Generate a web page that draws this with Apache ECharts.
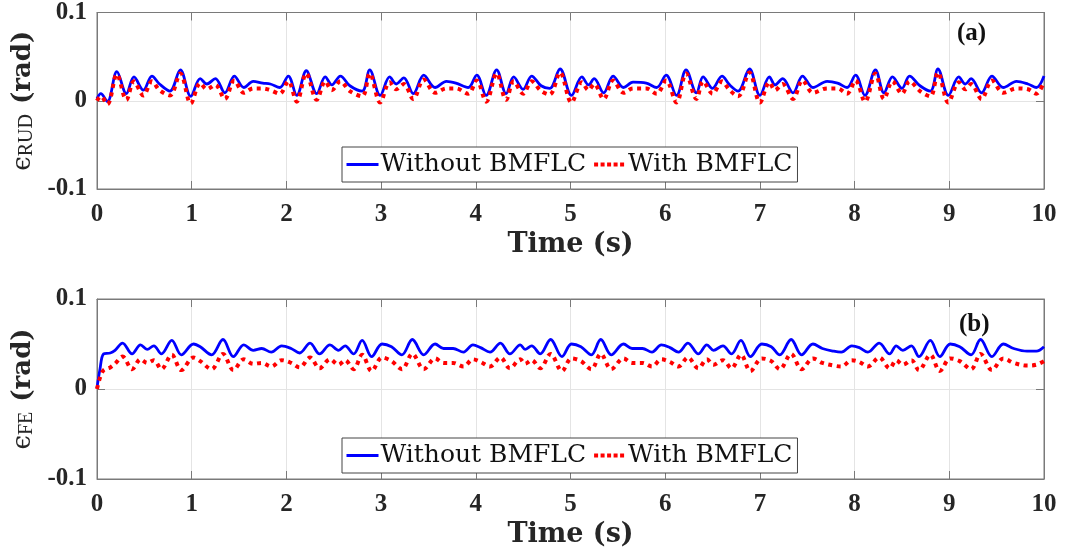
<!DOCTYPE html>
<html>
<head>
<meta charset="utf-8">
<script src="https://cdn.jsdelivr.net/npm/echarts@6/dist/echarts.min.js"></script>
<style>
html,body{margin:0;padding:0;background:#fff;}
#c{width:1066px;height:559px;}
</style>
</head>
<body>
<div id="c"></div>
<script>
// ---------- data ----------
var seriesNames = ['Without BMFLC', 'With BMFLC'];
var xTicks = [0,1,2,3,4,5,6,7,8,9,10];
var yTicks = [-0.1, 0, 0.1];

// panel (a): RUD error
var timeA = [0,0.04,0.11,0.21,0.31,0.39,0.49,0.58,0.66,0.77,
  0.88,0.99,1.09,1.16,1.25,1.35,1.45,1.55,1.65,1.75,
  1.83,1.93,2.02,2.11,2.21,2.32,2.41,2.48,2.57,2.67,
  2.80,2.88,2.99,3.09,3.16,3.24,3.34,3.45,3.57,3.69,
  3.79,3.92,4.01,4.11,4.22,4.32,4.40,4.50,4.59,4.69,
  4.78,4.89,5.01,5.12,5.19,5.25,5.35,5.45,5.56,5.66,
  5.80,5.91,6.01,6.12,6.22,6.33,6.40,6.50,6.60,6.68,
  6.77,6.89,7.00,7.10,7.16,7.24,7.35,7.45,7.56,7.71,
  7.82,7.92,8.01,8.11,8.22,8.31,8.40,8.50,8.58,8.69,
  8.80,8.88,8.99,9.10,9.17,9.23,9.34,9.45,9.57,9.71,
  9.83,9.92,10.0];
var withoutA = [0.0025,0.008,-0.001,0.033,0.008,0.027,0.012,0.028,0.019,0.011,
  0.035,0.005,0.025,0.019,0.025,0.009,0.028,0.015,0.022,0.020,
  0.019,0.015,0.028,0.006,0.034,0.008,0.027,0.018,0.028,0.017,
  0.011,0.035,0.006,0.027,0.019,0.026,0.008,0.029,0.015,0.022,
  0.020,0.015,0.029,0.006,0.035,0.008,0.027,0.013,0.028,0.017,
  0.014,0.036,0.006,0.027,0.018,0.025,0.009,0.028,0.015,0.021,
  0.020,0.015,0.029,0.006,0.035,0.009,0.027,0.014,0.028,0.018,
  0.011,0.036,0.006,0.027,0.018,0.025,0.009,0.028,0.015,0.022,
  0.020,0.015,0.029,0.006,0.035,0.009,0.027,0.014,0.028,0.017,
  0.011,0.036,0.006,0.027,0.019,0.025,0.009,0.028,0.015,0.022,
  0.019,0.015,0.028];
var withA = [0.000,0.005,-0.004,0.030,0.001,0.022,0.006,0.022,0.012,0.006,
  0.031,-0.003,0.020,0.013,0.018,0.002,0.023,0.009,0.014,0.014,
  0.012,0.008,0.022,-0.001,0.031,0.001,0.022,0.012,0.022,0.011,
  0.005,0.031,-0.002,0.021,0.013,0.019,0.002,0.024,0.009,0.014,
  0.014,0.008,0.023,-0.001,0.031,0.001,0.022,0.008,0.022,0.011,
  0.007,0.032,-0.002,0.021,0.012,0.019,0.002,0.023,0.009,0.014,
  0.014,0.008,0.023,-0.002,0.031,0.002,0.022,0.008,0.022,0.012,
  0.005,0.032,-0.002,0.021,0.012,0.019,0.002,0.023,0.009,0.014,
  0.014,0.008,0.023,-0.001,0.031,0.002,0.022,0.008,0.022,0.011,
  0.005,0.032,-0.002,0.021,0.013,0.019,0.002,0.023,0.009,0.014,
  0.013,0.008,0.022];

// panel (b): FE error
var timeB = [0,0.03,0.07,0.14,0.19,0.27,0.37,0.46,0.53,0.60,
  0.68,0.79,0.89,1.02,1.09,1.21,1.33,1.44,1.55,1.65,
  1.74,1.84,1.95,2.05,2.14,2.25,2.35,2.46,2.55,2.62,
  2.71,2.80,2.90,3.01,3.11,3.22,3.33,3.45,3.57,3.66,
  3.76,3.87,3.97,4.05,4.15,4.26,4.36,4.47,4.52,4.59,
  4.68,4.79,4.91,5.01,5.11,5.22,5.32,5.43,5.56,5.65,
  5.76,5.86,5.96,6.05,6.14,6.24,6.35,6.44,6.51,6.61,
  6.70,6.80,6.90,7.02,7.12,7.21,7.33,7.44,7.56,7.66,
  7.78,7.86,7.97,8.05,8.14,8.26,8.37,8.44,8.51,8.60,
  8.68,8.80,8.90,9.01,9.11,9.23,9.33,9.45,9.57,9.68,
  9.82,9.92,10.0];
var withoutB = [0.001,0.021,0.039,0.040,0.043,0.051,0.039,0.049,0.044,0.048,
  0.039,0.054,0.038,0.050,0.047,0.038,0.055,0.036,0.049,0.043,
  0.045,0.041,0.048,0.045,0.040,0.051,0.039,0.049,0.043,0.048,
  0.039,0.054,0.036,0.050,0.047,0.038,0.055,0.038,0.050,0.045,
  0.045,0.041,0.049,0.046,0.041,0.051,0.039,0.049,0.044,0.048,
  0.039,0.055,0.036,0.050,0.047,0.038,0.055,0.038,0.050,0.045,
  0.045,0.041,0.049,0.046,0.041,0.051,0.039,0.049,0.043,0.048,
  0.039,0.054,0.036,0.050,0.047,0.038,0.055,0.038,0.050,0.045,
  0.042,0.041,0.048,0.046,0.041,0.051,0.039,0.048,0.043,0.048,
  0.036,0.054,0.036,0.050,0.047,0.038,0.055,0.036,0.050,0.045,
  0.042,0.042,0.047];
var withB = [0.000,0.012,0.021,0.024,0.028,0.036,0.022,0.033,0.029,0.032,
  0.022,0.038,0.021,0.035,0.031,0.022,0.039,0.021,0.033,0.028,
  0.029,0.025,0.032,0.029,0.024,0.035,0.023,0.033,0.027,0.032,
  0.022,0.038,0.020,0.035,0.031,0.022,0.039,0.022,0.034,0.029,
  0.029,0.025,0.033,0.030,0.025,0.035,0.023,0.033,0.028,0.032,
  0.023,0.039,0.020,0.034,0.031,0.022,0.039,0.022,0.034,0.029,
  0.029,0.025,0.033,0.030,0.025,0.035,0.023,0.033,0.027,0.032,
  0.023,0.038,0.020,0.034,0.031,0.022,0.039,0.022,0.034,0.029,
  0.026,0.025,0.032,0.030,0.025,0.035,0.023,0.032,0.027,0.032,
  0.021,0.038,0.020,0.034,0.031,0.022,0.039,0.021,0.034,0.029,
  0.026,0.027,0.031];

// ---------- build chart ----------
function zip(t, v) {
  var n = Math.min(t.length, v.length), out = [];
  for (var i = 0; i < n; i++) out.push([t[i], v[i]]);
  return out;
}

var TXT = '#262626';
var AX = '#7a7a7a';
var GRIDC = '#e4e4e4';
var tickFont = {fontFamily: 'Liberation Serif', fontWeight: 'bold', fontSize: 25, color: TXT};

var grids = [
  {left: 97, right: 22, top: 8, height: 181, show: true, borderColor: AX, borderWidth: 1, backgroundColor: '#fff'},
  {left: 97, right: 22, top: 299, height: 180, show: true, borderColor: AX, borderWidth: 1, backgroundColor: '#fff'}
];

function mainX(gi) {
  return {
    type: 'value', gridIndex: gi, min: 0, max: 10, interval: 1, position: 'bottom',
    name: 'Time (s)', nameLocation: 'middle', nameGap: 42,
    nameTextStyle: {fontFamily: 'DejaVu Serif', fontWeight: 'bold', fontSize: 27, color: TXT},
    axisLine: {show: true, onZero: false, lineStyle: {color: AX, width: 1}},
    axisTick: {show: true, inside: true, length: 8, lineStyle: {color: AX}},
    axisLabel: Object.assign({margin: 13, formatter: function(v){ return String(v); }}, tickFont),
    splitLine: {show: true, lineStyle: {color: GRIDC, width: 1}}
  };
}
function topX(gi) {
  return {
    type: 'value', gridIndex: gi, min: 0, max: 10, interval: 1, position: 'top',
    axisLine: {show: true, onZero: false, lineStyle: {color: AX, width: 1}},
    axisTick: {show: true, inside: true, length: 8, lineStyle: {color: AX}},
    axisLabel: {show: false}, splitLine: {show: false}
  };
}
function mainY(gi, sub) {
  return {
    type: 'value', gridIndex: gi, min: yTicks[0], max: yTicks[yTicks.length-1], interval: 0.1, position: 'left',
    name: '{e|\u03F5}{s|' + sub + '}   {r|(rad)}',
    nameLocation: 'middle', nameRotate: 90, nameGap: 55,
    nameTextStyle: {
      color: TXT,
      rich: {
        e: {fontFamily: 'DejaVu Serif', fontSize: 26, color: TXT},
        s: {fontFamily: 'Liberation Serif', fontSize: 20, color: TXT, padding: [6,0,0,0]},
        r: {fontFamily: 'DejaVu Serif', fontWeight: 'bold', fontSize: 26, color: TXT}
      }
    },
    axisLine: {show: true, onZero: false, lineStyle: {color: AX, width: 1}},
    axisTick: {show: true, inside: true, length: 8, lineStyle: {color: AX}},
    axisLabel: Object.assign({margin: 10, formatter: function(v){ return v === 0 ? '0' : String(Math.round(v*10)/10); }}, tickFont),
    splitLine: {show: true, lineStyle: {color: GRIDC, width: 1}}
  };
}
function rightY(gi) {
  return {
    type: 'value', gridIndex: gi, min: yTicks[0], max: yTicks[yTicks.length-1], interval: 0.1, position: 'right',
    axisLine: {show: true, onZero: false, lineStyle: {color: AX, width: 1}},
    axisTick: {show: true, inside: true, length: 8, lineStyle: {color: AX}},
    axisLabel: {show: false}, splitLine: {show: false}
  };
}

function blueSeries(xi, yi, data) {
  return {
    name: seriesNames[0], type: 'line', xAxisIndex: xi, yAxisIndex: yi, data: data,
    symbol: 'none', smooth: 0.35, z: 3,
    lineStyle: {color: '#0000ff', width: 2.8},
    itemStyle: {color: '#0000ff'}
  };
}
function redSeries(xi, yi, data) {
  return {
    name: seriesNames[1], type: 'line', xAxisIndex: xi, yAxisIndex: yi, data: data,
    symbol: 'none', smooth: 0.35, z: 4,
    lineStyle: {color: '#ff0000', width: 4, type: [4, 4.5], cap: 'butt'},
    itemStyle: {color: '#ff0000'}
  };
}

function legendAt(top) {
  return {
    left: 342, top: top, orient: 'horizontal',
    data: [
      {name: seriesNames[0], lineStyle: {width: 3, color: '#0000ff'}},
      {name: seriesNames[1], lineStyle: {width: 4, color: '#ff0000', type: [4, 2.5]}}
    ],
    itemWidth: 32, itemHeight: 14, itemGap: 6,
    padding: [5, 5, 5, 3],
    borderColor: '#444', borderWidth: 1, backgroundColor: '#fff',
    itemStyle: {opacity: 0, borderWidth: 0},
    textStyle: {fontFamily: 'DejaVu Serif', fontSize: 25, color: '#111', padding: [0,0,0,-3]},
    selectedMode: false
  };
}

var option = {
  animation: false,
  backgroundColor: '#fff',
  grid: grids,
  xAxis: [mainX(0), mainX(1), topX(0), topX(1)],
  yAxis: [mainY(0, 'RUD'), mainY(1, 'FE'), rightY(0), rightY(1)],
  legend: [legendAt(147), legendAt(438)],
  series: [
    blueSeries(0, 0, zip(timeA, withoutA)),
    redSeries(0, 0, zip(timeA, withA)),
    blueSeries(1, 1, zip(timeB, withoutB)),
    redSeries(1, 1, zip(timeB, withB))
  ],
  graphic: [
    {type: 'text', left: 957, top: 21, z: 10, style: {text: '(a)', fontFamily: 'Liberation Serif', fontWeight: 'bold', fontSize: 25, fill: '#111'}},
    {type: 'text', left: 959, top: 312, z: 10, style: {text: '(b)', fontFamily: 'Liberation Serif', fontWeight: 'bold', fontSize: 25, fill: '#111'}}
  ]
};

var chart = echarts.init(document.getElementById('c'), null, {renderer: 'canvas'});
chart.setOption(option);
</script>
</body>
</html>
